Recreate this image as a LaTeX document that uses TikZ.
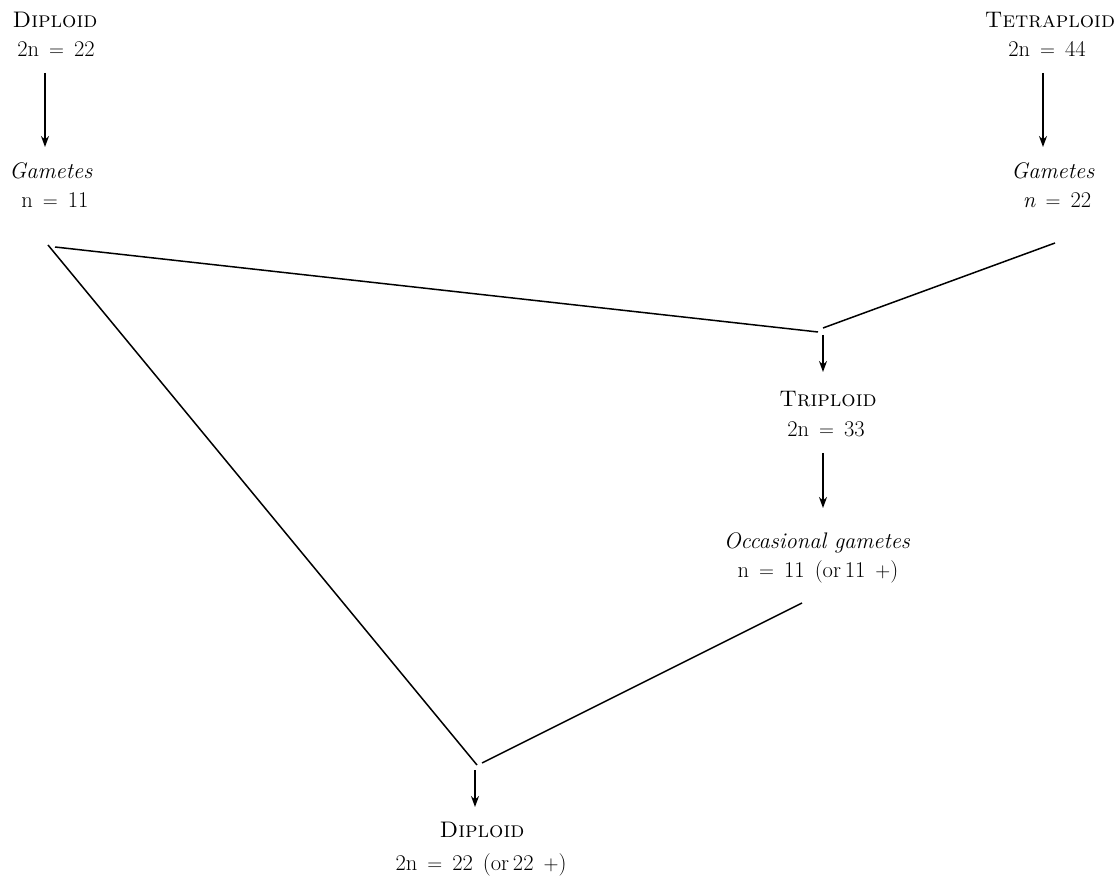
\documentclass[tikz,border=0pt]{standalone}
\usetikzlibrary{arrows.meta}
\begin{document}
\begin{tikzpicture}[x=1pt,y=-1pt,
  lbl/.style={anchor=base,inner sep=0pt,font=\fontsize{22.5}{27}\selectfont},
  arr/.style={line width=1.6pt,-{Stealth[length=11pt,width=8pt]}},
  ln/.style={line width=1.5pt}]
\useasboundingbox[fill=white] (0,0) rectangle (1117,882);
% left column
\node[lbl] (dip) at (55,28) {\textsc{Diploid}};
\node[lbl] (dipn) at (56,57) {2n\;\,$=$\;\,22};
\node[lbl] (gamL) at (51,179) {\textit{Gametes}};
\node[lbl] (gamLn) at (55,208) {n\;\,$=$\;\,11};
% right column
\node[lbl] (tet) at (1050,28) {\textsc{Tetraploid}};
\node[lbl] (tetn) at (1047,57) {2n\;\,$=$\;\,44};
\node[lbl] (gamR) at (1053,179) {\textit{Gametes}};
\node[lbl] (gamRn) at (1057,208) {\textit{n}\;\,$=$\;\,22};
% triploid
\node[lbl] (tri) at (828,407) {\textsc{Triploid}};
\node[lbl] (trin) at (826,437) {2n\;\,$=$\;\,33};
\node[lbl] (occ) at (817,548) {\textit{Occasional gametes}};
\node[lbl] (occn) at (818,577) {n\;\,$=$\;\,11\;\,(or\,11\;\,$+$)};
% bottom
\node[lbl] (dipB) at (482,837) {\textsc{Diploid}};
\node[lbl] (dipBn) at (481,870) {2n\;\,$=$\;\,22\;\,(or\,22\;\,$+$)};
% coordinates
\coordinate (aL1) at (45,73);  \coordinate (aL2) at (45,147);
\coordinate (aR1) at (1043,73); \coordinate (aR2) at (1043,147);
\coordinate (gL) at (55,247);  \coordinate (gL2) at (48,245);
\coordinate (gR) at (1055,243);
\coordinate (jT1) at (818,332); \coordinate (jT2) at (823,328);
\coordinate (aT1) at (823,335); \coordinate (aT2) at (823,372);
\coordinate (aT3) at (823,453); \coordinate (aT4) at (823,508);
\coordinate (oc) at (802,603);
\coordinate (jB1) at (477,765); \coordinate (jB2) at (482,763);
\coordinate (aB1) at (475,770); \coordinate (aB2) at (475,807);
% connectors
\draw[arr] (aL1) -- (aL2);
\draw[arr] (aR1) -- (aR2);
\draw[ln] (gL) -- (jT1);
\draw[ln] (gR) -- (jT2);
\draw[arr] (aT1) -- (aT2);
\draw[arr] (aT3) -- (aT4);
\draw[ln] (gL2) -- (jB1);
\draw[ln] (oc) -- (jB2);
\draw[arr] (aB1) -- (aB2);
\end{tikzpicture}
\end{document}
